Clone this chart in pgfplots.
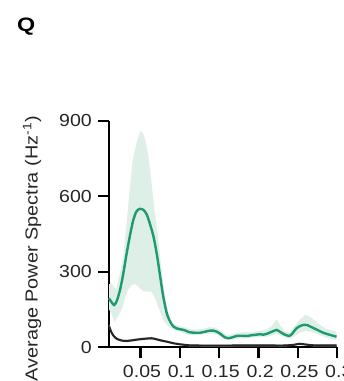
\documentclass[border=0pt]{standalone}
\usepackage{pgfplots}
\pgfplotsset{compat=1.18}
\usepgfplotslibrary{fillbetween}
\usepackage{fontspec}
\setmainfont{Liberation Sans}
\definecolor{grn}{HTML}{1F9A6E}
\definecolor{band}{HTML}{DDEFE7}
\definecolor{blk}{HTML}{262626}
\begin{document}
\begin{tikzpicture}[x=1bp,y=1bp]
\begin{axis}[
  scale only axis, width=228.3bp, height=226.6bp,
  at={(109bp,33.7bp)}, anchor=south west,
  xmin=0.01, xmax=0.3, ymin=0, ymax=900,
  axis x line*=bottom, axis y line*=left,
  axis line style={line width=2.2bp, black},
  tick align=outside, major tick length=11bp,
  every tick/.style={line width=2.2bp, black},
  xtick={0.05,0.1,0.15,0.2,0.25,0.3},
  xticklabels={0.05,0.1,0.15,0.2,0.25,0.3},
  ytick={0,300,600,900},
  yticklabels={0,300,600,900},
  tick label style={font=\fontsize{17.5}{20}\selectfont, text=blk, inner sep=0pt},
  xticklabel style={anchor=north, yshift=-7bp, xshift=1.5bp, xscale=1.12},
  yticklabel style={anchor=east, xshift=-6bp, xscale=1.12},
  ylabel={Average Power Spectra (Hz\textsuperscript{-1})},
  ylabel style={at={(axis description cs:-0.337,0.435)}, anchor=center, font=\fontsize{17.5}{21}\selectfont, text=blk, xscale=1.14},
  clip=false,
]
\addplot[name path=gu, draw=none] coordinates {
(0.010,250)(0.013,255)(0.016,240)(0.019,228)(0.022,270)(0.025,310)(0.028,361)(0.032,480)(0.036,614)(0.040,740)(0.045,813)(0.050,859)(0.053,850)(0.056,826)(0.060,760)(0.064,653)(0.068,540)(0.073,414)(0.077,300)(0.081,201)(0.086,130)(0.090,96)(0.095,88)(0.100,85)(0.110,75)(0.120,70)(0.130,74)(0.138,80)(0.145,78)(0.152,65)(0.160,48)(0.170,55)(0.180,60)(0.190,60)(0.200,65)(0.210,70)(0.217,85)(0.223,111)(0.228,85)(0.233,65)(0.239,58)(0.245,80)(0.252,110)(0.260,129)(0.267,118)(0.275,95)(0.285,75)(0.299,62)};
\addplot[name path=gl, draw=none] coordinates {
(0.010,150)(0.013,135)(0.017,102)(0.021,120)(0.026,149)(0.030,190)(0.034,228)(0.038,245)(0.0426,252)(0.046,245)(0.049,235)(0.053,225)(0.058,221)(0.064,221)(0.067,205)(0.071,175)(0.075,140)(0.079,109)(0.084,88)(0.088,76)(0.095,66)(0.100,62)(0.110,50)(0.120,48)(0.130,52)(0.140,55)(0.148,50)(0.155,35)(0.162,28)(0.170,33)(0.180,35)(0.190,38)(0.200,40)(0.210,42)(0.217,48)(0.223,52)(0.230,45)(0.239,35)(0.245,42)(0.252,58)(0.260,65)(0.267,62)(0.275,52)(0.285,40)(0.299,28)};
\addplot[band] fill between[of=gu and gl];
\addplot[name path=bu, draw=none] coordinates {
(0.010,92)(0.013,68)(0.015,56)(0.018,44)(0.021,37)(0.026,32)(0.032,30)(0.040,33)(0.049,37)(0.056,39)(0.064,41)(0.070,37)(0.075,33)(0.084,26)(0.092,20)(0.100,16)(0.112,12)(0.130,11)(0.160,11)(0.200,12)(0.230,11)(0.245,14)(0.252,18)(0.260,15)(0.270,12)(0.299,12)};
\addplot[name path=bl, draw=none] coordinates {
(0.010,78)(0.013,52)(0.015,42)(0.018,32)(0.021,27)(0.026,22)(0.032,20)(0.040,23)(0.049,27)(0.056,29)(0.064,31)(0.070,27)(0.075,23)(0.084,18)(0.092,12)(0.100,8)(0.112,4)(0.130,3)(0.160,3)(0.200,4)(0.230,3)(0.245,6)(0.252,10)(0.260,7)(0.270,4)(0.299,4)};
\addplot[black!25] fill between[of=bu and bl];
\addplot[blk, line width=2bp, smooth] coordinates {
(0.010,85)(0.013,60)(0.015,49)(0.018,38)(0.021,32)(0.026,27)(0.032,25)(0.040,28)(0.049,32)(0.056,34)(0.064,36)(0.070,32)(0.075,28)(0.084,22)(0.092,16)(0.100,12)(0.112,8)(0.130,7)(0.160,7)(0.200,8)(0.230,7)(0.245,10)(0.252,14)(0.260,11)(0.270,8)(0.299,8)};
\addplot[grn, line width=2.4bp, smooth] coordinates {
(0.010,195)(0.012,185)(0.0165,168)(0.020,185)(0.024,228)(0.028,290)(0.0325,374)(0.037,450)(0.041,507)(0.045,540)(0.0494,550)(0.054,545)(0.058,527)(0.062,490)(0.0665,440)(0.071,365)(0.075,281)(0.079,200)(0.0834,135)(0.088,100)(0.092,82)(0.096,75)(0.100,72)(0.106,68)(0.112,60)(0.119,58)(0.126,58)(0.132,62)(0.138,66)(0.143,66)(0.147,62)(0.152,52)(0.157,40)(0.162,36)(0.167,40)(0.172,45)(0.178,46)(0.185,45)(0.191,48)(0.197,50)(0.202,52)(0.206,50)(0.210,53)(0.214,58)(0.219,65)(0.223,69)(0.227,62)(0.231,54)(0.235,48)(0.239,45)(0.243,55)(0.248,75)(0.253,85)(0.257,89)(0.262,88)(0.266,82)(0.274,70)(0.282,58)(0.290,50)(0.299,42)};
\end{axis}
\node[font=\bfseries\fontsize{19.5}{22}\selectfont, anchor=base west, inner sep=0pt, xscale=1.2] at (17bp,381bp-32bp) {Q};
\pgfresetboundingbox
\useasboundingbox (0,0) rectangle (344bp,381bp);
\end{tikzpicture}
\end{document}
